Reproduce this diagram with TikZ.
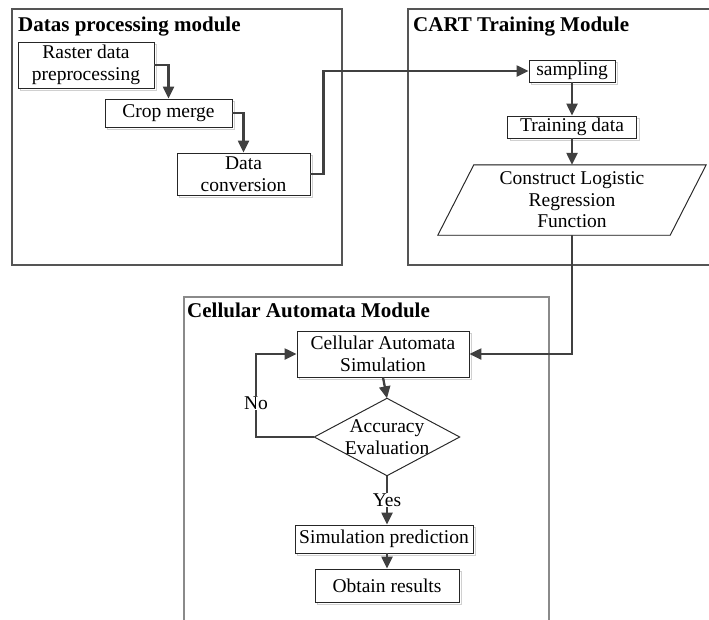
\documentclass[tikz,border=0pt]{standalone}
\usepackage{fontspec}
\setmainfont{Liberation Serif}
\usetikzlibrary{arrows.meta,calc,shadows}
\definecolor{arrowc}{HTML}{404040}
\definecolor{framec}{HTML}{555555}
\definecolor{frameb}{HTML}{8A8A8A}
\definecolor{shadowc}{HTML}{D0D0D0}
\tikzset{
  txt/.style={font=\fontsize{19.5}{21.5}\selectfont},
  procbox/.style={txt, draw=black!85, fill=white, line width=0.9pt, inner sep=0pt, align=center,
    drop shadow={shadow xshift=2.5pt, shadow yshift=-2.5pt, fill=none, draw=shadowc, opacity=1, line width=0.9pt}},
  plain/.style={txt, inner sep=0pt, align=center},
  boxline/.style={draw=black!85, line width=0.9pt},
  shadowline/.style={draw=shadowc, line width=0.9pt},
  flow/.style={draw=arrowc, line width=2.3pt, -{Triangle[length=12pt,width=11pt]}},
  module/.style={draw=framec, line width=1.1pt},
  moduleb/.style={draw=frameb, line width=1.1pt},
  mtitle/.style={font=\fontsize{21}{24}\selectfont\bfseries, inner sep=0pt, anchor=base west},
  lbl/.style={txt, fill=white, inner sep=1pt}
}
\begin{document}
\begin{tikzpicture}[x=1pt, y=-1pt]
\useasboundingbox (0,0) rectangle (709,619);
\fill[white] (0,0) rectangle (709,619);

% module frames
\draw[module] (12,9) rectangle (342,265);
\draw[module] (715,9) -- (408,9) -- (408,265) -- (715,265);
\draw[moduleb] (184,625) -- (184,297) -- (549,297) -- (549,625);

\node[mtitle] (t1) at (18,31) {Datas processing module};
\node[mtitle] (t2) at (413,31) {CART Training Module};
\node[mtitle] (t3) at (187,317) {Cellular Automata Module};

% data processing
\node[procbox, minimum width=136pt, minimum height=46pt] (rast) at (86,65) {Raster data\\preprocessing};
\node[procbox, minimum width=127pt, minimum height=28pt] (crop) at (168.5,113) {Crop merge};
\node[procbox, minimum width=133pt, minimum height=42pt] (dconv) at (243.5,174) {Data\\conversion};

% CART
\node[procbox, minimum width=86pt, minimum height=22pt] (samp) at (572,71) {sampling};
\node[procbox, minimum width=129pt, minimum height=22pt] (train) at (572,127) {Training data};
\node[plain, minimum width=196pt, minimum height=70pt] (clr) at (572,200) {Construct Logistic\\Regression\\Function};
\begin{scope}[shift={(2.5,2.5)}]
\draw[shadowline] (clr.north west) -- ($(clr.north east)+(36,0)$) -- (clr.south east) -- ($(clr.south west)+(-36,0)$) -- cycle;
\end{scope}
\draw[boxline] (clr.north west) -- ($(clr.north east)+(36,0)$) -- (clr.south east) -- ($(clr.south west)+(-36,0)$) -- cycle;

% Cellular automata
\node[procbox, minimum width=172pt, minimum height=46pt] (cas) at (383,354) {Cellular Automata\\Simulation};
\node[plain, minimum width=145pt, minimum height=77pt] (acc) at (387,437) {Accuracy\\Evaluation};
\begin{scope}[shift={(2.5,2.5)}]
\draw[shadowline] (acc.north) -- (acc.east) -- (acc.south) -- (acc.west) -- cycle;
\end{scope}
\draw[boxline] (acc.north) -- (acc.east) -- (acc.south) -- (acc.west) -- cycle;
\node[procbox, minimum width=178pt, minimum height=28pt] (simp) at (384,539) {Simulation prediction};
\node[procbox, minimum width=144pt, minimum height=33pt] (obt) at (387,585.5) {Obtain results};

% connectors
\draw[flow] (rast.east) -| (crop.north);
\draw[flow] (crop.east) -| (dconv.north);
\draw[flow] (dconv.east) -- ++(13,0) |- (samp.west);
\draw[flow] (samp.south) -- (train.north);
\draw[flow] (train.south) -- (clr.north);
\draw[flow] (clr.south) |- (cas.east);
\draw[flow] (cas.south) -- (acc.north);
\draw[flow] (acc.west) -- ++(-58,0) |- (cas.west);
\draw[flow] (acc.south) -- (acc.south |- simp.north);
\draw[flow] (obt.north |- simp.south) -- (obt.north);

\node[lbl] (no) at (256,403) {No};
\node[lbl] (yes) at (387,500) {Yes};
\end{tikzpicture}
\end{document}
